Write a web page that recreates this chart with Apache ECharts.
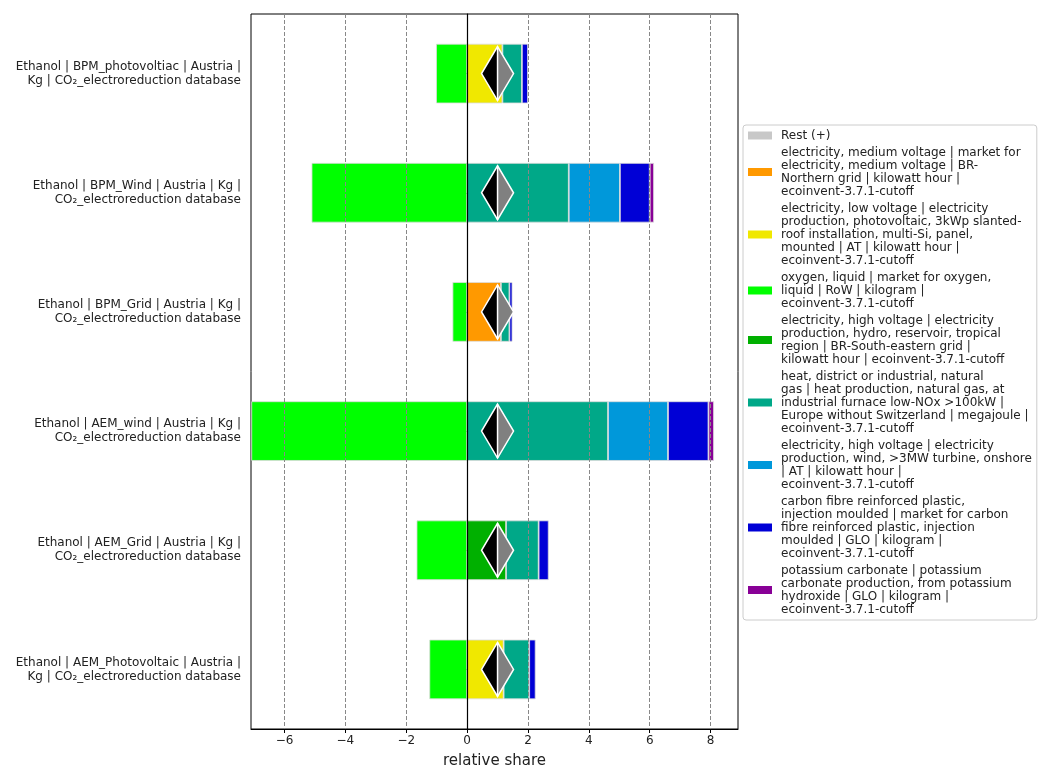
<!DOCTYPE html>
<html><head><meta charset="utf-8">
<script src="https://cdn.jsdelivr.net/npm/echarts@6/dist/echarts.min.js"></script>
<style>html,body{margin:0;padding:0;background:#fff}#c{width:1038px;height:774px}</style>
</head><body><div id="c"></div>
<script>
const categories = [
  "Ethanol | BPM_photovoltiac | Austria |\nKg | CO\u2082_electroreduction database",
  "Ethanol | BPM_Wind | Austria | Kg |\nCO\u2082_electroreduction database",
  "Ethanol | BPM_Grid | Austria | Kg |\nCO\u2082_electroreduction database",
  "Ethanol | AEM_wind | Austria | Kg |\nCO\u2082_electroreduction database",
  "Ethanol | AEM_Grid | Austria | Kg |\nCO\u2082_electroreduction database",
  "Ethanol | AEM_Photovoltaic | Austria |\nKg | CO\u2082_electroreduction database"
];
const xTicks = [-6, -4, -2, 0, 2, 4, 6, 8];
const gridLines = [-6, -4, -2, 2, 4, 6, 8];

const seriesNames = [
  "Rest (+)",
  "electricity, medium voltage | market for\nelectricity, medium voltage | BR-\nNorthern grid | kilowatt hour |\necoinvent-3.7.1-cutoff",
  "electricity, low voltage | electricity\nproduction, photovoltaic, 3kWp slanted-\nroof installation, multi-Si, panel,\nmounted | AT | kilowatt hour |\necoinvent-3.7.1-cutoff",
  "oxygen, liquid | market for oxygen,\nliquid | RoW | kilogram |\necoinvent-3.7.1-cutoff",
  "electricity, high voltage | electricity\nproduction, hydro, reservoir, tropical\nregion | BR-South-eastern grid |\nkilowatt hour | ecoinvent-3.7.1-cutoff",
  "heat, district or industrial, natural\ngas | heat production, natural gas, at\nindustrial furnace low-NOx >100kW |\nEurope without Switzerland | megajoule |\necoinvent-3.7.1-cutoff",
  "electricity, high voltage | electricity\nproduction, wind, >3MW turbine, onshore\n| AT | kilowatt hour |\necoinvent-3.7.1-cutoff",
  "carbon fibre reinforced plastic,\ninjection moulded | market for carbon\nfibre reinforced plastic, injection\nmoulded | GLO | kilogram |\necoinvent-3.7.1-cutoff",
  "potassium carbonate | potassium\ncarbonate production, from potassium\nhydroxide | GLO | kilogram |\necoinvent-3.7.1-cutoff"
];
const seriesColors = ['#c8c8c8', '#ff9900', '#f0e800', '#00ff00', '#00b000', '#00a888', '#0098da', '#0000d6', '#880096'];

const restVals       = [null, null, null, null, null, null];
const mvGridVals     = [null, null, 1.11, null, null, null];
const pvVals         = [1.16, null, null, null, null, 1.20];
const oxygenVals     = [-1.02, -5.11, -0.48, -7.09, -1.66, -1.24];
const hydroVals      = [null, null, null, null, 1.28, null];
const heatVals       = [0.64, 3.34, 0.28, 4.63, 1.07, 0.84];
const windVals       = [null, 1.68, null, 1.97, null, null];
const cfrpVals       = [0.20, 0.98, 0.10, 1.33, 0.33, 0.21];
const potassiumVals  = [null, 0.14, null, 0.18, null, null];
const netTotals      = [1.0, 1.0, 1.0, 1.0, 1.0, 1.0];

const allVals = [restVals, mvGridVals, pvVals, oxygenVals, hydroVals, heatVals, windVals, cfrpVals, potassiumVals];

const FONT = 'DejaVu Sans';
const chart = echarts.init(document.getElementById('c'), null, {renderer: 'canvas'});

const barSeries = allVals.map((vals, k) => ({
  name: seriesNames[k],
  type: 'bar',
  stack: 'total',
  barWidth: '50%',
  data: vals,
  itemStyle: {color: seriesColors[k], borderColor: '#dcdcdc', borderWidth: 0.8},
  emphasis: {disabled: true},
  z: 3
}));

const option = {
  animation: false,
  backgroundColor: '#fff',
  textStyle: {fontFamily: FONT},
  grid: {left: 251, top: 14, width: 487, height: 721, show: true, borderColor: '#000', borderWidth: 1, backgroundColor: 'transparent'},
  xAxis: {
    type: 'value', min: -7.1, max: 8.9,
    name: 'relative share', nameLocation: 'middle', nameGap: 25,
    nameTextStyle: {fontSize: 15, color: '#222', fontFamily: FONT},
    axisLine: {show: true, onZero: false, lineStyle: {color: '#000'}},
    axisTick: {show: true, length: 4, customValues: xTicks, lineStyle: {color: '#000'}},
    axisLabel: {customValues: xTicks, fontSize: 12, color: '#222', margin: 6, fontFamily: FONT,
      formatter: v => (v < 0 ? '\u2212' + Math.abs(v) : String(v))},
    splitLine: {show: false}
  },
  yAxis: {
    type: 'category', data: categories, inverse: true,
    axisLine: {show: true, lineStyle: {color: '#000'}},
    axisTick: {show: true, alignWithLabel: true, length: 4, lineStyle: {color: '#000'}},
    axisLabel: {fontSize: 12, color: '#222', lineHeight: 14, margin: 10, align: 'right', fontFamily: FONT},
    splitLine: {show: false}
  },
  legend: {
    orient: 'vertical', left: 743, top: 125,
    padding: [4, 5, 4, 5], itemGap: 4, itemWidth: 24, itemHeight: 8,
    borderColor: '#cccccc', borderWidth: 1, borderRadius: 3,
    icon: 'rect',
    itemStyle: {borderWidth: 0},
    textStyle: {fontSize: 12, lineHeight: 13, color: '#222', fontFamily: FONT, padding: [0, 0, 0, 4]},
    data: seriesNames
  },
  series: [
    {
      type: 'line', data: [], silent: true, z: 1,
      markLine: {
        silent: true, symbol: 'none', label: {show: false}, animation: false,
        data: gridLines.map(v => ({xAxis: v, lineStyle: {color: '#888', type: [4, 2], width: 1}}))
          .concat([{xAxis: 0, lineStyle: {color: '#000', type: 'solid', width: 1.2}}])
      }
    },
    ...barSeries,
    {
      type: 'custom', silent: true, z: 5,
      data: netTotals.map((v, i) => [v, i]),
      renderItem: function (params, api) {
        const p = api.coord([api.value(0), api.value(1)]);
        const hw = 16, hh = 27;
        return {
          type: 'group',
          children: [
            {type: 'polygon', shape: {points: [[p[0], p[1] - hh], [p[0] - hw, p[1]], [p[0], p[1] + hh]]}, style: {fill: '#000'}},
            {type: 'polygon', shape: {points: [[p[0], p[1] - hh], [p[0] + hw, p[1]], [p[0], p[1] + hh]]}, style: {fill: '#808080'}},
            {type: 'polygon', shape: {points: [[p[0], p[1] - hh], [p[0] + hw, p[1]], [p[0], p[1] + hh], [p[0] - hw, p[1]]]}, style: {fill: 'none', stroke: '#fff', lineWidth: 1.5}},
            {type: 'line', shape: {x1: p[0], y1: p[1] - hh, x2: p[0], y2: p[1] + hh}, style: {stroke: '#fff', lineWidth: 1.5}}
          ]
        };
      }
    }
  ]
};
chart.setOption(option);
</script>
</body></html>
